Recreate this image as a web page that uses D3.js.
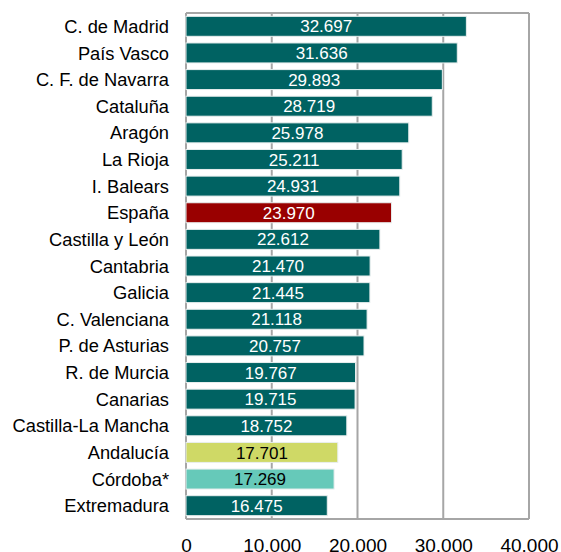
<!DOCTYPE html>
<html><head><meta charset="utf-8">
<script src="https://cdn.jsdelivr.net/npm/d3@7/dist/d3.min.js"></script>
<style>body{margin:0;background:#fff}svg{display:block}text{font-family:"Liberation Sans",Arial,sans-serif}</style>
</head><body><svg id="c" width="561" height="552"></svg>
<script>
const categories = ["C. de Madrid","País Vasco","C. F. de Navarra","Cataluña","Aragón","La Rioja","I. Balears","España","Castilla y León","Cantabria","Galicia","C. Valenciana","P. de Asturias","R. de Murcia","Canarias","Castilla-La Mancha","Andalucía","Córdoba*","Extremadura"];
const values = [32697,31636,29893,28719,25978,25211,24931,23970,22612,21470,21445,21118,20757,19767,19715,18752,17701,17269,16475];
const valueLabels = ["32.697","31.636","29.893","28.719","25.978","25.211","24.931","23.970","22.612","21.470","21.445","21.118","20.757","19.767","19.715","18.752","17.701","17.269","16.475"];
const tickValues = [0,10000,20000,30000,40000];
const tickLabels = ["0","10.000","20.000","30.000","40.000"];
const highlight = {"España":"#990000","Andalucía":"#cfd966","Córdoba*":"#66c9b9"};
const darkText = {"Andalucía":true,"Córdoba*":true};

const svg = d3.select("#c");
const m = {left:186, right:529, top:13, bottom:519};
const x = d3.scaleLinear().domain([0,40000]).range([m.left,m.right]);
const y = d3.scaleBand().domain(categories).range([m.top,m.bottom]).paddingInner(0.25).paddingOuter(0.125);

// grid
svg.append("g").selectAll("line").data(tickValues).join("line")
  .attr("x1",d=>x(d)).attr("x2",d=>x(d)).attr("y1",m.top).attr("y2",m.bottom)
  .attr("stroke","#a6a6a6").attr("stroke-width",2);
svg.append("line").attr("x1",m.left).attr("x2",m.right).attr("y1",m.top).attr("y2",m.top).attr("stroke","#a6a6a6").attr("stroke-width",2);
svg.append("line").attr("x1",m.left).attr("x2",m.right).attr("y1",m.bottom).attr("y2",m.bottom).attr("stroke","#a6a6a6").attr("stroke-width",2);

// bars
svg.append("g").selectAll("rect").data(categories).join("rect")
  .attr("x",x(0)).attr("y",d=>y(d))
  .attr("width",(d,i)=>x(values[i])-x(0)).attr("height",y.bandwidth())
  .attr("fill",d=>highlight[d]||"#006262")
  .attr("stroke","#e8eeee").attr("stroke-width",1);

// value labels
svg.append("g").selectAll("text").data(categories).join("text")
  .attr("x",(d,i)=>(x(0)+x(values[i]))/2).attr("y",d=>y(d)+y.bandwidth()/2)
  .attr("dy","0.36em").attr("text-anchor","middle").attr("font-size",17)
  .attr("fill",d=>darkText[d]?"#000":"#fff")
  .text((d,i)=>valueLabels[i]);

// category labels
svg.append("g").selectAll("text").data(categories).join("text")
  .attr("x",169).attr("y",d=>y(d)+y.bandwidth()/2)
  .attr("dy","0.36em").attr("text-anchor","end").attr("font-size",18.3).attr("fill","#000")
  .text(d=>d);

// x axis labels
const ax = d3.axisBottom(x).tickValues(tickValues).tickFormat((d,i)=>tickLabels[i]).tickSize(0).tickPadding(0);
const g = svg.append("g").attr("transform","translate(0,537)").call(ax);
g.select(".domain").remove();
g.selectAll("text").attr("font-size",19).attr("fill","#000").attr("font-family","Liberation Sans, Arial, sans-serif").attr("dy","0.8em");
</script></body></html>
